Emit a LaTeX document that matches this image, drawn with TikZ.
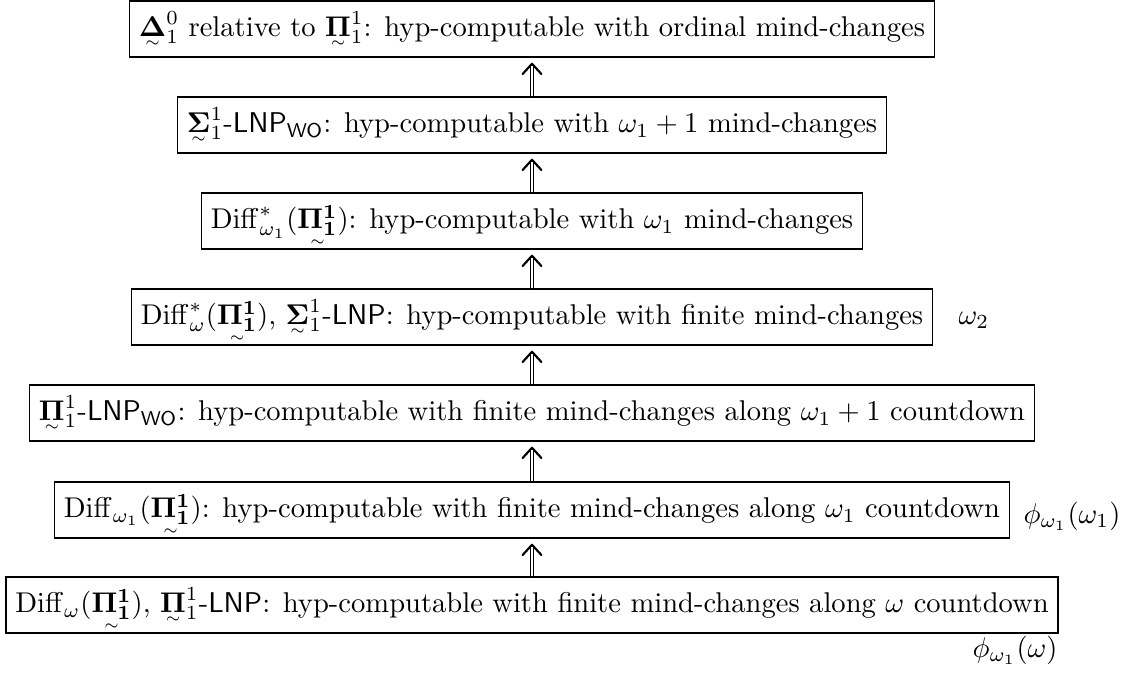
\documentclass[tikz,border=0pt]{standalone}
\usepackage{amsmath}
\usetikzlibrary{arrows.meta}
\newcommand{\bfu}[1]{\mathord{\smash[b]{\vtop{\offinterlineskip\ialign{\hfil##\hfil\cr$\mathbf{#1}$\cr\noalign{\kern1.4pt}$\scriptscriptstyle\sim$\cr}}}}}
\begin{document}
\begin{tikzpicture}[x=0.35pt,y=0.35pt,
  stage/.style={draw,line width=0.5pt,inner sep=3.3pt,text height=9.2pt,text depth=3.7pt},
  tipline/.style={line width=0.4pt,-{Straight Barb[length=3.6pt,width=6.6pt,line width=0.75pt,round]},shorten >=1.8pt},
  shaft/.style={double,double distance=0.8pt,line width=0.4pt,shorten >=2.9pt},
  side/.style={anchor=west,inner sep=0pt}]
\useasboundingbox (0,0) rectangle (1123,-677);
\node[stage] (n1) at (532,-29) {$\bfu{\Delta}^0_1$ relative to $\bfu{\Pi}^1_1$: hyp-computable with ordinal mind-changes};
\node[stage] (n2) at (532,-125) {$\bfu{\Sigma}^1_1$-$\mathsf{LNP}_{\mathsf{WO}}$: hyp-computable with $\omega_1+1$ mind-changes};
\node[stage] (n3) at (532,-221) {$\mathrm{Diff}^*_{\omega_1}(\bfu{\Pi^1_1})$: hyp-computable with $\omega_1$ mind-changes};
\node[stage] (n4) at (532,-317) {$\mathrm{Diff}^*_{\omega}(\bfu{\Pi^1_1})$, $\bfu{\Sigma}^1_1$-$\mathsf{LNP}$: hyp-computable with finite mind-changes};
\node[stage] (n5) at (532,-413) {$\bfu{\Pi}^1_1$-$\mathsf{LNP}_{\mathsf{WO}}$: hyp-computable with finite mind-changes along $\omega_1+1$ countdown};
\node[stage] (n6) at (532,-510) {$\mathrm{Diff}_{\omega_1}(\bfu{\Pi^1_1})$: hyp-computable with finite mind-changes along $\omega_1$ countdown};
\node[stage] (n7) at (532,-605) {$\mathrm{Diff}_{\omega}(\bfu{\Pi^1_1})$, $\bfu{\Pi}^1_1$-$\mathsf{LNP}$: hyp-computable with finite mind-changes along $\omega$ countdown};
\node[side] (l4) at (958,-320) {$\omega_2$};
\node[side] (l6) at (1023,-516) {$\phi_{\omega_1}(\omega_1)$};
\node[side] (l7) at (972,-650) {$\phi_{\omega_1}(\omega)$};
\foreach \a/\b in {n2/n1,n3/n2,n4/n3,n5/n4,n6/n5,n7/n6}{
  \draw[tipline] (\a.north) -- (\b.south);
  \draw[shaft] (\a.north) -- (\b.south);
}
\end{tikzpicture}
\end{document}
